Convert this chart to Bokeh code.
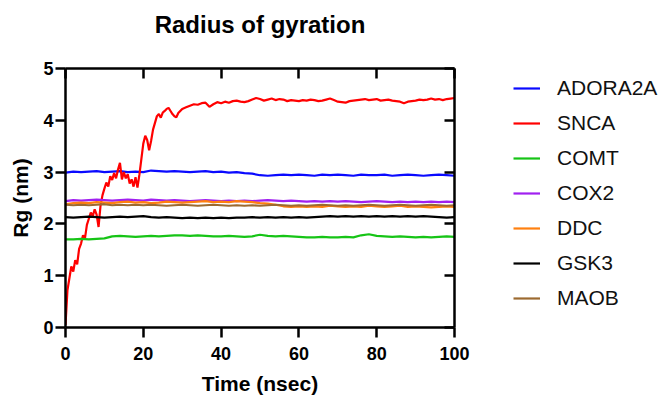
from bokeh.plotting import figure
from bokeh.models import Range1d, LinearAxis, FixedTicker, Legend, LegendItem, CustomJSTickFormatter
from bokeh.layouts import row
from bokeh.embed import file_html
from bokeh.resources import INLINE

# ---------------- data ----------------
chart_title = "Radius of gyration"
series_names = ["ADORA2A", "SNCA", "COMT", "COX2", "DDC", "GSK3", "MAOB"]
series_colors = ["#0a0aff", "#ff0000", "#16c416", "#a020f0", "#ff8010", "#000000", "#9c6a30"]

x_ticks = [0, 20, 40, 60, 80, 100]
y_ticks = [0, 1, 2, 3, 4, 5]

# SNCA: dense early sampling, then every 1 ns
snca_t = [0, 0.5, 1, 1.5, 2, 2.5, 3, 3.5, 4, 4.5, 5, 5.5, 6, 6.5, 7, 7.5, 8, 8.5, 9, 9.5,
          10, 10.5, 11, 11.5, 12, 12.5, 13, 13.5, 14, 14.5, 15, 15.5, 16, 16.5, 17, 17.5,
          18, 18.5, 19, 19.5, 20, 20.5, 21, 21.5, 22, 22.5, 23, 23.5, 24, 24.5, 25, 25.5,
          26, 26.5, 27, 27.5, 28, 28.5, 29, 29.5, 30,
          31, 32, 33, 34, 35, 36, 37, 38, 39, 40, 41, 42, 43, 44, 45, 46, 47, 48, 49, 50,
          51, 52, 53, 54, 55, 56, 57, 58, 59, 60, 61, 62, 63, 64, 65, 66, 67, 68, 69, 70,
          71, 72, 73, 74, 75, 76, 77, 78, 79, 80, 81, 82, 83, 84, 85, 86, 87, 88, 89, 90,
          91, 92, 93, 94, 95, 96, 97, 98, 99, 100]
snca = [0.05, 0.72, 0.95, 1.18, 1.08, 1.30, 1.22, 1.52, 1.62, 1.78, 1.72, 1.98, 2.10, 2.22,
        2.15, 2.28, 2.18, 1.94, 2.35, 2.55, 2.68, 2.80, 2.72, 2.92, 2.85, 2.98, 2.88, 3.05,
        3.18, 2.86, 3.00, 2.88, 2.96, 2.78, 2.86, 2.72, 2.90, 2.70, 2.95, 3.25, 3.55, 3.70,
        3.62, 3.42, 3.60, 3.82, 3.95, 4.08, 4.12, 4.05, 4.15, 4.18, 4.22, 4.24, 4.18, 4.12,
        4.08, 4.06, 4.14, 4.18, 4.22,
        4.25, 4.28, 4.31, 4.30, 4.33, 4.34, 4.26, 4.31, 4.35, 4.33, 4.36, 4.34, 4.37, 4.38,
        4.36, 4.35, 4.37, 4.40, 4.43, 4.41, 4.38, 4.40, 4.42, 4.39, 4.41, 4.40, 4.37, 4.39,
        4.38, 4.37, 4.39, 4.38, 4.40, 4.39, 4.37, 4.38, 4.40, 4.42, 4.39, 4.36, 4.35, 4.34,
        4.37, 4.38, 4.39, 4.40, 4.41, 4.39, 4.40, 4.41, 4.38, 4.39, 4.40, 4.38, 4.37, 4.36,
        4.33, 4.36, 4.37, 4.38, 4.40, 4.39, 4.40, 4.42, 4.40, 4.41, 4.39, 4.41, 4.42, 4.43]

# other proteins: every 2 ns
time2 = [0, 2, 4, 6, 8, 10, 12, 14, 16, 18, 20, 22, 24, 26, 28, 30, 32, 34, 36, 38,
         40, 42, 44, 46, 48, 50, 52, 54, 56, 58, 60, 62, 64, 66, 68, 70, 72, 74, 76, 78,
         80, 82, 84, 86, 88, 90, 92, 94, 96, 98, 100]
adora2a = [2.99, 3.01, 3.00, 3.01, 3.02, 3.00, 3.01, 3.02, 3.00, 3.01,
           3.00, 3.03, 3.02, 3.01, 3.02, 3.01, 3.00, 3.01, 3.02, 3.00,
           3.01, 2.99, 3.00, 2.98, 2.97, 2.94, 2.93, 2.94, 2.95, 2.94,
           2.95, 2.94, 2.93, 2.95, 2.94, 2.95, 2.94, 2.93, 2.95, 2.94,
           2.94, 2.95, 2.93, 2.94, 2.95, 2.94, 2.93, 2.94, 2.95, 2.94, 2.93]
comt = [1.70, 1.70, 1.71, 1.70, 1.71, 1.72, 1.76, 1.77, 1.76, 1.75,
        1.76, 1.77, 1.76, 1.77, 1.78, 1.78, 1.77, 1.78, 1.77, 1.76,
        1.76, 1.77, 1.76, 1.75, 1.76, 1.79, 1.77, 1.76, 1.77, 1.76,
        1.75, 1.74, 1.74, 1.75, 1.74, 1.74, 1.75, 1.74, 1.78, 1.80,
        1.77, 1.76, 1.75, 1.76, 1.75, 1.74, 1.75, 1.74, 1.75, 1.76, 1.75]
cox2 = [2.44, 2.46, 2.45, 2.46, 2.47, 2.46, 2.45, 2.46, 2.47, 2.46,
        2.45, 2.47, 2.46, 2.45, 2.46, 2.45, 2.44, 2.45, 2.46, 2.45,
        2.44, 2.45, 2.44, 2.45, 2.44, 2.45, 2.46, 2.45, 2.44, 2.45,
        2.44, 2.43, 2.44, 2.43, 2.44, 2.43, 2.44, 2.43, 2.42, 2.43,
        2.44, 2.43, 2.42, 2.43, 2.42, 2.43, 2.42, 2.43, 2.42, 2.43, 2.42]
ddc = [2.38, 2.40, 2.41, 2.40, 2.42, 2.41, 2.40, 2.42, 2.43, 2.41,
       2.42, 2.40, 2.41, 2.43, 2.42, 2.41, 2.42, 2.43, 2.44, 2.42,
       2.43, 2.42, 2.44, 2.43, 2.42, 2.40, 2.39, 2.37, 2.34, 2.33,
       2.34, 2.33, 2.34, 2.33, 2.35, 2.34, 2.33, 2.34, 2.33, 2.35,
       2.34, 2.33, 2.34, 2.35, 2.33, 2.34, 2.33, 2.32, 2.33, 2.34, 2.33]
gsk3 = [2.13, 2.12, 2.13, 2.14, 2.13, 2.12, 2.13, 2.14, 2.13, 2.14,
        2.15, 2.13, 2.12, 2.13, 2.12, 2.11, 2.12, 2.11, 2.12, 2.11,
        2.12, 2.11, 2.12, 2.12, 2.13, 2.12, 2.13, 2.12, 2.13, 2.12,
        2.13, 2.12, 2.13, 2.14, 2.15, 2.14, 2.15, 2.14, 2.15, 2.14,
        2.15, 2.14, 2.15, 2.14, 2.15, 2.14, 2.15, 2.14, 2.13, 2.12, 2.13]
maob = [2.37, 2.36, 2.37, 2.36, 2.37, 2.38, 2.36, 2.37, 2.36, 2.37,
        2.36, 2.37, 2.36, 2.35, 2.36, 2.37, 2.36, 2.35, 2.36, 2.37,
        2.36, 2.35, 2.36, 2.35, 2.36, 2.35, 2.36, 2.37, 2.36, 2.35,
        2.36, 2.35, 2.36, 2.37, 2.36, 2.35, 2.36, 2.35, 2.36, 2.37,
        2.36, 2.35, 2.36, 2.37, 2.36, 2.35, 2.36, 2.37, 2.36, 2.35, 2.36]

series_x = [time2, snca_t, time2, time2, time2, time2, time2]
series_y = [adora2a, snca, comt, cox2, ddc, gsk3, maob]

FONT = "Liberation Sans"
MAIN_W, LEG_W, H = 476, 183, 397

p = figure(width=MAIN_W, height=H,
           output_backend="svg", toolbar_location=None,
           x_range=Range1d(0, 100), y_range=Range1d(0, 5),
           min_border_left=65, min_border_right=22, min_border_top=68, min_border_bottom=70)
p.background_fill_color = "white"
p.border_fill_color = "white"
p.outline_line_color = None
p.xgrid.visible = False
p.ygrid.visible = False
p.title.text = ""
p.title.standoff = 0
p.title.visible = False

def style_axis(ax, labels=True):
    ax.axis_line_width = 2.5
    ax.axis_line_color = "black"
    ax.major_tick_line_width = 2.5
    ax.major_tick_line_color = "black"
    ax.minor_tick_line_color = None
    ax.major_label_text_font = FONT
    ax.major_label_text_font_size = "18px"
    ax.major_label_text_font_style = "bold"
    ax.major_label_text_color = "black"
    ax.axis_label_text_font = FONT
    ax.axis_label_text_font_size = "21px"
    ax.axis_label_text_font_style = "bold"
    ax.axis_label_text_color = "black"
    if labels:
        ax.major_tick_out = 10
        ax.major_tick_in = 0
    else:
        ax.major_tick_out = 0
        ax.major_tick_in = 10
        ax.formatter = CustomJSTickFormatter(code="return '';")
        ax.major_label_text_font_size = "1px"
        ax.major_label_standoff = 0

xa = p.xaxis[0]
ya = p.yaxis[0]
xa.ticker = FixedTicker(ticks=x_ticks)
ya.ticker = FixedTicker(ticks=y_ticks)
style_axis(xa)
style_axis(ya)
xa.axis_label = "Time (nsec)"
ya.axis_label = "Rg (nm)"
xa.major_label_standoff = 9
xa.axis_label_standoff = 9
ya.major_label_standoff = 2
ya.axis_label_standoff = 8

# top mirror axis carries the chart title as its label
top_ax = LinearAxis(ticker=FixedTicker(ticks=x_ticks))
style_axis(top_ax, labels=False)
top_ax.axis_label = chart_title
top_ax.axis_label_text_font_size = "24px"
top_ax.axis_label_standoff = 31
p.add_layout(top_ax, "above")
right_ax = LinearAxis(ticker=FixedTicker(ticks=y_ticks))
style_axis(right_ax, labels=False)
p.add_layout(right_ax, "right")

for col, xs, ys in zip(series_colors, series_x, series_y):
    p.line(xs, ys, line_color=col, line_width=2.2)

# legend panel: same series, drawn outside its (empty) view so only the key shows
q = figure(width=LEG_W, height=H, output_backend="svg", toolbar_location=None,
           x_range=Range1d(-20, -10), y_range=Range1d(-20, -10),
           min_border=0)
q.axis.visible = False
q.grid.visible = False
q.outline_line_color = None
q.background_fill_color = "white"
q.border_fill_color = "white"

items = []
for name, col, xs, ys in zip(series_names, series_colors, series_x, series_y):
    r = q.line(xs, ys, line_color=col, line_width=2.2)
    items.append(LegendItem(label=name, renderers=[r]))

legend = Legend(items=items, location=(37, 17))
legend.label_text_font = FONT
legend.label_text_font_size = "21px"
legend.label_text_color = "#111111"
legend.glyph_width = 27
legend.label_standoff = 17
legend.spacing = 11
legend.padding = 0
legend.margin = 0
legend.border_line_color = None
legend.background_fill_alpha = 0
q.add_layout(legend, "center")

layout = row(p, q, spacing=0)
open("out.html", "w").write(file_html(layout, INLINE))
